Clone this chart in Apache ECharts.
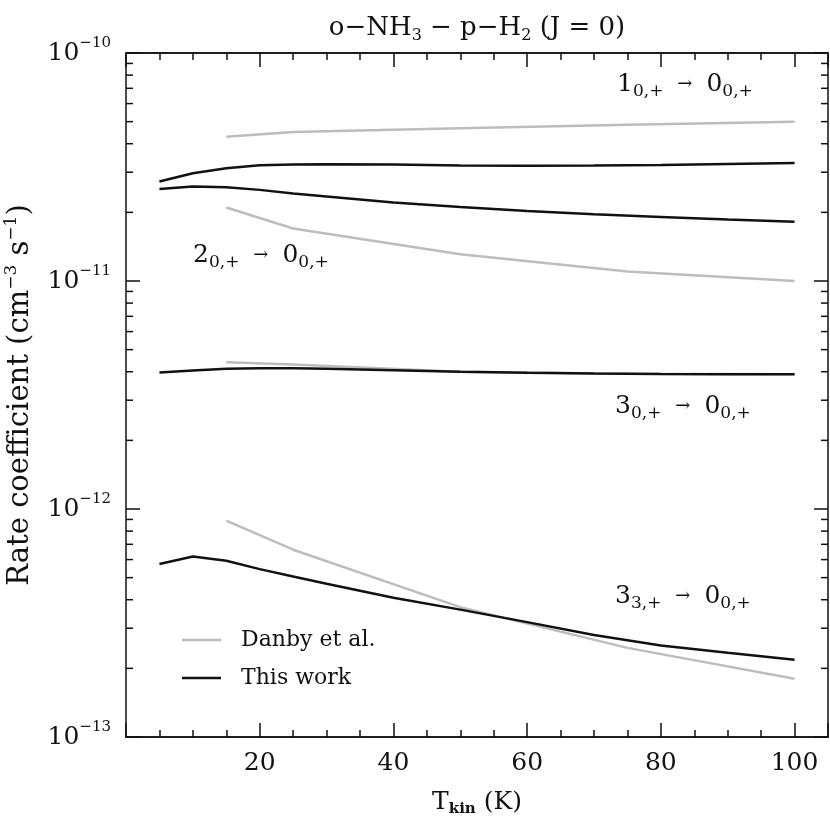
<!DOCTYPE html>
<html>
<head>
<meta charset="utf-8">
<title>o-NH3 - p-H2 (J = 0)</title>
<script src="https://cdn.jsdelivr.net/npm/echarts@6.0.0/dist/echarts.min.js"></script>
<style>
  html, body { margin: 0; padding: 0; background: #fff; }
  #chart { width: 830px; height: 822px; }
</style>
</head>
<body>
<div id="chart"></div>
<script>
// kinetic temperatures (K)
const workT = [5, 10, 15, 20, 25, 30, 40, 50, 60, 70, 80, 90, 100];
const danbyT = [15, 25, 50, 75, 100];

// rate coefficients, this work (cm^3 s^-1)
const work1000 = [2.73e-11, 2.97e-11, 3.12e-11, 3.22e-11, 3.24e-11, 3.25e-11, 3.24e-11, 3.21e-11, 3.20e-11, 3.21e-11, 3.23e-11, 3.26e-11, 3.29e-11];
const work2000 = [2.53e-11, 2.60e-11, 2.58e-11, 2.51e-11, 2.42e-11, 2.35e-11, 2.21e-11, 2.11e-11, 2.03e-11, 1.96e-11, 1.91e-11, 1.86e-11, 1.82e-11];
const work3000 = [3.97e-12, 4.05e-12, 4.12e-12, 4.14e-12, 4.14e-12, 4.12e-12, 4.06e-12, 4.00e-12, 3.96e-12, 3.93e-12, 3.91e-12, 3.90e-12, 3.90e-12];
const work3300 = [5.74e-13, 6.19e-13, 5.93e-13, 5.45e-13, 5.06e-13, 4.70e-13, 4.08e-13, 3.62e-13, 3.19e-13, 2.80e-13, 2.52e-13, 2.34e-13, 2.18e-13];

// Danby et al.
const danby1000 = [4.29e-11, 4.50e-11, 4.68e-11, 4.84e-11, 4.99e-11];
const danby2000 = [2.10e-11, 1.70e-11, 1.31e-11, 1.10e-11, 1.00e-11];
const danby3000 = [4.40e-12, 4.30e-12, 4.00e-12, 3.92e-12, 3.90e-12];
const danby3300 = [8.89e-13, 6.63e-13, 3.71e-13, 2.46e-13, 1.80e-13];

// transition labels
const transLabels = [
  { up: '1', upSub: '0,+', left: 617, top: 72 },
  { up: '2', upSub: '0,+', left: 193, top: 243 },
  { up: '3', upSub: '0,+', left: 615, top: 394 },
  { up: '3', upSub: '3,+', left: 615, top: 584 }
];

const xMin = 0, xMax = 105;
const yMin = 1e-13, yMax = 1e-10;
const yMinorTicks = [];
for (let e = -13; e < -10; e++) {
  for (let m = 2; m <= 9; m++) yMinorTicks.push(m * Math.pow(10, e));
}

const FONT = 'DejaVu Serif';
const INK = '#111';
const GREY = '#bdbdbd';

function zip(xs, ys) {
  return xs.map((x, i) => [x, ys[i]]);
}

function lineSeries(name, xs, ys, color) {
  return {
    name: name,
    type: 'line',
    data: zip(xs, ys),
    showSymbol: false,
    symbol: 'none',
    z: color === INK ? 3 : 2,
    lineStyle: { color: color, width: 2.5 },
    itemStyle: { color: color }
  };
}

function xAxisDef(position, interval, len, labels) {
  return {
    type: 'value', position: position, min: xMin, max: xMax, interval: interval,
    axisLine: { show: true, onZero: false, lineStyle: { color: INK, width: 1.5 } },
    axisTick: { show: true, inside: true, length: len, lineStyle: { color: INK, width: 1.5 } },
    axisLabel: labels ? {
      show: true, margin: 14, fontFamily: FONT, fontSize: 25, color: INK,
      formatter: v => (v === 0 || v > 100) ? '' : String(v)
    } : { show: false },
    splitLine: { show: false },
    name: labels ? '{n|T}{sub|kin}{n| (K)}' : '',
    nameLocation: 'middle',
    nameGap: 50,
    nameTextStyle: {
      rich: {
        n: { fontFamily: FONT, fontSize: 25, color: INK, lineHeight: 30 },
        sub: { fontFamily: FONT, fontSize: 15, fontWeight: 'bold', color: INK, lineHeight: 14, verticalAlign: 'bottom' }
      }
    }
  };
}

function yAxisDef(position, labels) {
  return {
    type: 'log', logBase: 10, position: position, min: yMin, max: yMax,
    axisLine: { show: true, onZero: false, lineStyle: { color: INK, width: 1.5 } },
    axisTick: { show: true, inside: true, length: 14, lineStyle: { color: INK, width: 1.5 } },
    minorTick: { show: false },
    splitLine: { show: false },
    axisLabel: labels ? {
      show: true, margin: 15, color: INK,
      formatter: v => '{b|10}{s|\u2212' + Math.abs(Math.round(Math.log10(v))) + '}',
      rich: {
        b: { fontFamily: FONT, fontSize: 25, color: INK, lineHeight: 34 },
        s: { fontFamily: FONT, fontSize: 15, color: INK, lineHeight: 16, verticalAlign: 'top' }
      }
    } : { show: false },
    name: labels ? '{n|Rate coefficient (cm}{s|\u22123}{n| s}{s|\u22121}{n|)}' : '',
    nameLocation: 'middle',
    nameRotate: 90,
    nameGap: 89,
    nameTextStyle: {
      rich: {
        n: { fontFamily: FONT, fontSize: 29, color: INK, lineHeight: 34 },
        s: { fontFamily: FONT, fontSize: 17, color: INK, lineHeight: 16, verticalAlign: 'top' }
      }
    }
  };
}

const transRich = {
  b: { fontFamily: FONT, fontSize: 25, fill: INK, lineHeight: 32 },
  s: { fontFamily: FONT, fontSize: 17, fill: INK, lineHeight: 14, verticalAlign: 'bottom' },
  a: { fontFamily: FONT, fontSize: 18, fill: INK, lineHeight: 32, padding: [0, 14, 0, 14] }
};

const titleRich = {
  n: { fontFamily: FONT, fontSize: 26, fill: INK, lineHeight: 32 },
  s: { fontFamily: FONT, fontSize: 16, fill: INK, lineHeight: 14, verticalAlign: 'bottom' }
};

const chart = echarts.init(document.getElementById('chart'), null, { renderer: 'canvas' });

chart.setOption({
  backgroundColor: '#fff',
  animation: false,
  grid: { left: 126, right: 2, top: 53, bottom: 85, containLabel: false, outerBoundsMode: 'none' },
  xAxis: [
    xAxisDef('bottom', 20, 14, true),
    xAxisDef('bottom', 5, 7, false),
    xAxisDef('top', 20, 14, false),
    xAxisDef('top', 5, 7, false)
  ],
  yAxis: [yAxisDef('left', true), yAxisDef('right', false)],
  legend: {
    left: 177,
    top: 624,
    orient: 'vertical',
    icon: 'rect',
    itemWidth: 39,
    itemHeight: 2.5,
    itemGap: 16,
    data: ['Danby et al.', 'This work'],
    textStyle: { fontFamily: FONT, fontSize: 22, color: INK, lineHeight: 22, padding: [0, 0, 0, 15] }
  },
  graphic: [
    {
      type: 'text',
      x: 477,
      y: 28,
      silent: true,
      style: {
        text: '{n|o\u2212NH}{s|3}{n| \u2212 p\u2212H}{s|2}{n| (J = 0)}',
        rich: titleRich,
        align: 'center',
        verticalAlign: 'middle'
      }
    }
  ].concat(transLabels.map(t => ({
    type: 'text',
    left: t.left,
    top: t.top,
    silent: true,
    style: {
      text: '{b|' + t.up + '}{s|' + t.upSub + '}{a|\u2192}{b|0}{s|0,+}',
      rich: transRich
    }
  }))),
  series: [
    lineSeries('Danby et al.', danbyT, danby1000, GREY),
    lineSeries('Danby et al.', danbyT, danby2000, GREY),
    lineSeries('Danby et al.', danbyT, danby3000, GREY),
    lineSeries('Danby et al.', danbyT, danby3300, GREY),
    lineSeries('This work', workT, work1000, INK),
    lineSeries('This work', workT, work2000, INK),
    lineSeries('This work', workT, work3000, INK),
    lineSeries('This work', workT, work3300, INK),
    {
      // minor ticks of the log axis at 2..9 x 10^n, on both sides
      type: 'custom',
      silent: true,
      z: 5,
      data: yMinorTicks.map(v => [xMin, v]),
      renderItem: (params, api) => {
        const v = api.value(1);
        const l = api.coord([xMin, v]);
        const r = api.coord([xMax, v]);
        return {
          type: 'group',
          children: [
            { type: 'line', shape: { x1: l[0], y1: l[1], x2: l[0] + 7, y2: l[1] }, style: { stroke: INK, lineWidth: 1.5 } },
            { type: 'line', shape: { x1: r[0] - 7, y1: r[1], x2: r[0], y2: r[1] }, style: { stroke: INK, lineWidth: 1.5 } }
          ]
        };
      }
    }
  ]
});
</script>
</body>
</html>
